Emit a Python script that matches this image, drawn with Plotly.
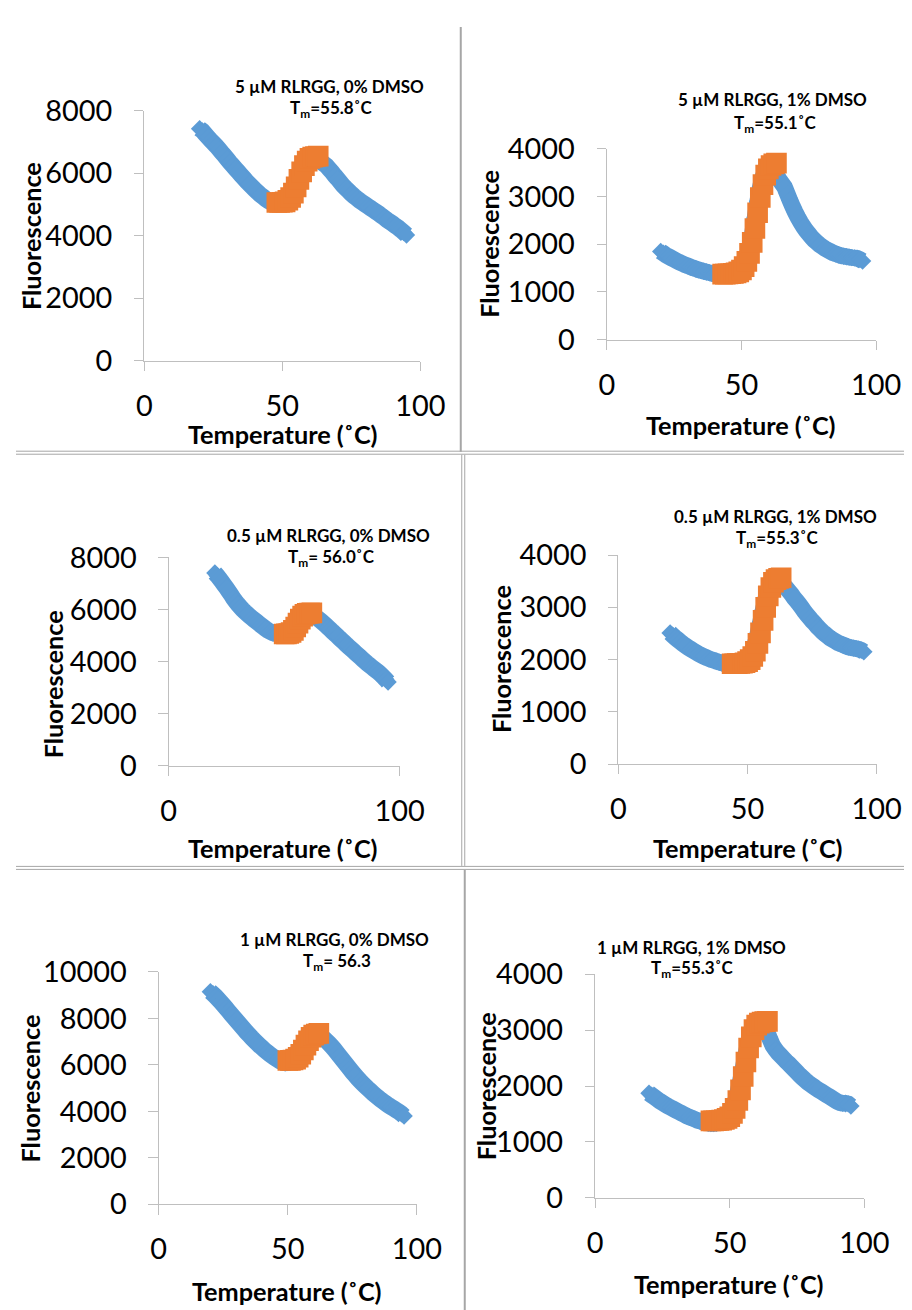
import plotly.graph_objects as go

# ---------------- data ----------------
TEMP = [20, 21, 22, 23, 24, 25, 26, 27, 28, 29,
        30, 31, 32, 33, 34, 35, 36, 37, 38, 39,
        40, 41, 42, 43, 44, 45, 46, 47, 48, 49,
        50, 51, 52, 53, 54, 55, 56, 57, 58, 59,
        60, 61, 62, 63, 64, 65, 66, 67, 68, 69,
        70, 71, 72, 73, 74, 75, 76, 77, 78, 79,
        80, 81, 82, 83, 84, 85, 86, 87, 88, 89,
        90, 91, 92, 93, 94, 95]

# 5 uM RLRGG, 0% DMSO
P1_RAW = [7420, 7350, 7250, 7150, 7050, 6960, 6870, 6770, 6660, 6560,
          6450, 6340, 6240, 6140, 6040, 5940, 5840, 5740, 5650, 5560,
          5470, 5390, 5310, 5240, 5170, 5110, 5060, 5030, 5010, 5020,
          5060, 5130, 5230, 5370, 5530, 5710, 5890, 6060, 6200, 6310,
          6390, 6440, 6450, 6420, 6360, 6300, 6230, 6130, 6030, 5920,
          5820, 5710, 5600, 5510, 5430, 5340, 5260, 5190, 5120, 5060,
          5000, 4940, 4880, 4820, 4760, 4700, 4630, 4570, 4500, 4440,
          4380, 4310, 4250, 4180, 4100, 4020]
P1_FIT_T = [48, 49, 50, 51, 52, 53, 54, 55, 56, 57, 58, 59, 60, 61, 62, 63]
P1_FIT = [5060, 5060, 5065, 5080, 5130, 5220, 5360, 5560, 5800, 6040,
          6240, 6380, 6470, 6510, 6530, 6540]

# 5 uM RLRGG, 1% DMSO
P2_RAW = [1850, 1810, 1770, 1740, 1710, 1680, 1650, 1620, 1595, 1570,
          1550, 1525, 1505, 1485, 1465, 1450, 1435, 1420, 1405, 1390,
          1380, 1370, 1360, 1355, 1350, 1350, 1355, 1365, 1385, 1410,
          1450, 1530, 1680, 1900, 2200, 2550, 2900, 3200, 3420, 3540,
          3580, 3570, 3530, 3450, 3360, 3280, 3200, 3060, 2920, 2790,
          2670, 2560, 2460, 2370, 2290, 2220, 2150, 2090, 2040, 1990,
          1950, 1910, 1880, 1850, 1820, 1800, 1780, 1760, 1750, 1740,
          1730, 1720, 1715, 1705, 1680, 1650]
P2_FIT_T = [43, 44, 45, 46, 47, 48, 49, 50, 51, 52, 53,
            54, 55, 56, 57, 58, 59, 60, 61, 62, 63]
P2_FIT = [1375, 1375, 1378, 1382, 1390, 1400, 1420, 1460, 1530, 1640, 1810,
          2040, 2330, 2660, 2980, 3250, 3450, 3580, 3650, 3685, 3700]

# 0.5 uM RLRGG, 0% DMSO
P3_RAW = [7400, 7300, 7190, 7070, 6950, 6830, 6700, 6570, 6430, 6310,
          6200, 6100, 6000, 5910, 5830, 5750, 5680, 5610, 5540, 5470,
          5400, 5330, 5260, 5200, 5150, 5110, 5080, 5060, 5050, 5050,
          5060, 5080, 5130, 5200, 5290, 5400, 5510, 5620, 5710, 5770,
          5800, 5800, 5780, 5740, 5690, 5630, 5560, 5480, 5400, 5320,
          5240, 5150, 5070, 4990, 4900, 4820, 4740, 4650, 4570, 4490,
          4410, 4330, 4250, 4170, 4090, 4010, 3930, 3860, 3790, 3720,
          3650, 3580, 3500, 3410, 3320, 3220]
P3_FIT_T = [50, 51, 52, 53, 54, 55, 56, 57, 58, 59, 60, 61, 62]
P3_FIT = [5060, 5065, 5080, 5120, 5200, 5330, 5480, 5630, 5750, 5820,
          5855, 5865, 5870]

# 0.5 uM RLRGG, 1% DMSO
P4_RAW = [2510, 2465, 2420, 2380, 2340, 2300, 2265, 2230, 2200, 2170,
          2140, 2110, 2085, 2060, 2040, 2020, 2000, 1985, 1965, 1950,
          1935, 1925, 1915, 1908, 1905, 1905, 1905, 1915, 1935, 1965,
          2010, 2080, 2180, 2320, 2500, 2720, 2950, 3160, 3320, 3430,
          3490, 3510, 3500, 3470, 3420, 3370, 3310, 3250, 3180, 3120,
          3060, 2990, 2920, 2860, 2800, 2740, 2690, 2630, 2580, 2530,
          2490, 2450, 2410, 2380, 2350, 2320, 2300, 2280, 2260, 2240,
          2230, 2220, 2210, 2200, 2180, 2150]
P4_FIT_T = [44, 45, 46, 47, 48, 49, 50, 51, 52, 53,
            54, 55, 56, 57, 58, 59, 60, 61, 62, 63]
P4_FIT = [1920, 1920, 1922, 1925, 1930, 1940, 1960, 2000, 2060, 2160,
          2310, 2510, 2750, 3000, 3220, 3380, 3480, 3530, 3555, 3565]

# 1 uM RLRGG, 0% DMSO
P5_RAW = [9150, 9060, 8950, 8830, 8710, 8580, 8450, 8320, 8190, 8060,
          7930, 7800, 7670, 7540, 7410, 7290, 7170, 7060, 6950, 6840,
          6740, 6640, 6550, 6460, 6380, 6300, 6230, 6160, 6110, 6090,
          6100, 6140, 6210, 6320, 6470, 6650, 6830, 7000, 7140, 7240,
          7290, 7300, 7280, 7220, 7130, 7030, 6920, 6800, 6670, 6530,
          6390, 6250, 6110, 5970, 5830, 5690, 5560, 5430, 5310, 5200,
          5090, 4980, 4880, 4780, 4680, 4590, 4500, 4420, 4340, 4260,
          4190, 4120, 4050, 3980, 3900, 3800]
P5_FIT_T = [50, 51, 52, 53, 54, 55, 56, 57, 58, 59, 60, 61, 62]
P5_FIT = [6190, 6195, 6210, 6250, 6330, 6460, 6640, 6850, 7040, 7190,
          7280, 7330, 7360]

# 1 uM RLRGG, 1% DMSO
P6_RAW = [1870, 1835, 1800, 1765, 1730, 1700, 1670, 1640, 1615, 1590,
          1565, 1540, 1515, 1490, 1465, 1445, 1425, 1405, 1385, 1370,
          1355, 1345, 1335, 1330, 1330, 1335, 1345, 1365, 1395, 1440,
          1500, 1590, 1720, 1890, 2100, 2340, 2580, 2790, 2960, 3080,
          3150, 3170, 3150, 3060, 2950, 2830, 2720, 2650, 2590, 2540,
          2490, 2440, 2395, 2345, 2295, 2245, 2195, 2150, 2105, 2065,
          2030, 1995, 1960, 1930, 1900, 1870, 1840, 1810, 1780, 1750,
          1720, 1700, 1690, 1690, 1680, 1640]
P6_FIT_T = [43, 44, 45, 46, 47, 48, 49, 50, 51, 52, 53,
            54, 55, 56, 57, 58, 59, 60, 61, 62, 63, 64]
P6_FIT = [1375, 1375, 1378, 1382, 1390, 1400, 1420, 1450, 1510, 1600, 1740,
          1930, 2170, 2430, 2680, 2880, 3010, 3090, 3125, 3145, 3152, 3156]

TITLES = ["5 µM RLRGG, 0% DMSO", "5 µM RLRGG, 1% DMSO",
          "0.5 µM RLRGG, 0% DMSO", "0.5 µM RLRGG, 1% DMSO",
          "1 µM RLRGG, 0% DMSO", "1 µM RLRGG, 1% DMSO"]
TM_LABELS = ["T<sub>m</sub>=55.8˚C", "T<sub>m</sub>=55.1˚C",
             "T<sub>m</sub>= 56.0˚C", "T<sub>m</sub>=55.3˚C",
             "T<sub>m</sub>= 56.3", "T<sub>m</sub>=55.3˚C"]
Y_MAX = [8000, 4000, 8000, 4000, 10000, 4000]
Y_STEP = [2000, 1000, 2000, 1000, 2000, 1000]
X_TICKS = [[0, 50, 100], [0, 50, 100], [0, 100], [0, 50, 100], [0, 50, 100], [0, 50, 100]]
X_TITLE = "Temperature (˚C)"
Y_TITLE = "Fluorescence"

RAW = [P1_RAW, P2_RAW, P3_RAW, P4_RAW, P5_RAW, P6_RAW]
FIT_T = [P1_FIT_T, P2_FIT_T, P3_FIT_T, P4_FIT_T, P5_FIT_T, P6_FIT_T]
FIT = [P1_FIT, P2_FIT, P3_FIT, P4_FIT, P5_FIT, P6_FIT]

# ---------------- geometry ----------------
# Target positions are given in final-picture pixels; the viewer maps figure
# pixels to picture pixels as  X = 15.5 + 0.965 x,  Y = 26.5 + 0.973 y.
SX, SY = 0.965, 0.973
OX, OY = 15.5, 26.5
FW, FH = 929, 1319
K = (SX + SY) / 2  # size compensation

AREA = [
    (144.0, 420.0, 360.0, 110.0),
    (606.7, 876.0, 339.0, 148.3),
    (168.3, 399.3, 765.0, 556.7),
    (618.3, 876.7, 763.3, 554.3),
    (158.3, 416.7, 1203.3, 971.0),
    (595.0, 864.3, 1196.7, 973.3),
]
TITLE_POS = [
    (329, 86, 331, 108),
    (772, 99, 775, 123),
    (328, 535, 331, 557),
    (775, 516, 777, 538),
    (334, 939, 337, 961),
    (691, 947, 692, 968),
]
AXT_POS = [
    (30, 235, 283, 433),
    (488, 243, 741, 424),
    (52, 683, 283, 847),
    (501, 658, 748, 847),
    (30, 1087, 287, 1290),
    (486, 1085, 729, 1283),
]

BLUE = "#5B9BD5"
ORANGE = "#ED7D31"
AXIS_GREY = "#bfbfbf"
BORDER_GREY = "#a6a6a6"
FONT = "Lato"


def px(X):
    return ((X - OX) / SX) / FW


def py(Y):
    return 1 - ((Y - OY) / SY) / FH


def sz(v):
    return v / K


fig = go.Figure()
layout = dict(
    width=FW, height=FH, margin=dict(l=0, r=0, t=0, b=0),
    paper_bgcolor="white", plot_bgcolor="white", showlegend=False,
    font=dict(family=FONT, color="black"),
)
annotations = []

for i in range(6):
    n = i + 1
    xs = "" if n == 1 else str(n)
    x0, x1, y0, y1 = AREA[i]
    fig.add_trace(go.Scatter(
        x=TEMP, y=RAW[i], mode="lines+markers", xaxis="x" + xs, yaxis="y" + xs,
        line=dict(color=BLUE, width=sz(16), simplify=False),
        marker=dict(symbol="diamond", size=sz(13), color=BLUE, line=dict(width=0)),
        hoverinfo="skip"))
    fig.add_trace(go.Scatter(
        x=FIT_T[i], y=FIT[i], mode="markers", xaxis="x" + xs, yaxis="y" + xs,
        marker=dict(symbol="square", size=sz(20), color=ORANGE, line=dict(width=0)),
        hoverinfo="skip"))
    layout["xaxis" + xs] = dict(
        domain=[px(x0), px(x1)], anchor="y" + xs, range=[0, 100],
        tickvals=X_TICKS[i], showline=True, linecolor=AXIS_GREY, linewidth=1,
        ticks="outside", ticklen=sz(9), tickcolor=AXIS_GREY, tickwidth=1,
        showgrid=False, zeroline=False, ticklabelstandoff=10,
        tickfont=dict(family=FONT, size=sz(28), color="black"))
    layout["yaxis" + xs] = dict(
        domain=[py(y0), py(y1)], anchor="x" + xs, range=[0, Y_MAX[i]],
        dtick=Y_STEP[i], tick0=0, tickformat="d",
        showline=True, linecolor=AXIS_GREY, linewidth=1,
        ticks="outside", ticklen=sz(9), tickcolor=AXIS_GREY, tickwidth=1,
        showgrid=False, zeroline=False, ticklabelstandoff=16,
        tickfont=dict(family=FONT, size=sz(28), color="black"))
    tx1, ty1, tx2, ty2 = TITLE_POS[i]
    annotations.append(dict(
        text="<b>" + TITLES[i] + "</b>", x=px(tx1), y=py(ty1), xref="paper", yref="paper",
        xanchor="center", yanchor="middle", showarrow=False,
        font=dict(family=FONT, size=sz(16.5), color="black")))
    annotations.append(dict(
        text="<b>" + TM_LABELS[i] + "</b>", x=px(tx2), y=py(ty2), xref="paper", yref="paper",
        xanchor="center", yanchor="middle", showarrow=False,
        font=dict(family=FONT, size=sz(16.5), color="black")))
    ax, ay, bx, by = AXT_POS[i]
    annotations.append(dict(
        text="<b>" + Y_TITLE + "</b>", x=px(ax), y=py(ay), xref="paper", yref="paper",
        xanchor="center", yanchor="middle", showarrow=False, textangle=-90,
        font=dict(family=FONT, size=sz(24.5), color="black")))
    annotations.append(dict(
        text="<b>" + X_TITLE + "</b>", x=px(bx), y=py(by), xref="paper", yref="paper",
        xanchor="center", yanchor="middle", showarrow=False,
        font=dict(family=FONT, size=sz(24.5), color="black")))

shapes = []


def hline(Y, xa, xb, w=1):
    shapes.append(dict(type="line", xref="paper", yref="paper",
                       x0=max(px(xa), 0), x1=min(px(xb), 1), y0=py(Y), y1=py(Y),
                       line=dict(color=BORDER_GREY, width=w)))


def vline(X, ya, yb, w=1):
    shapes.append(dict(type="line", xref="paper", yref="paper",
                       x0=px(X), x1=px(X), y0=min(py(ya), 1), y1=max(py(yb), 0),
                       line=dict(color=BORDER_GREY, width=w)))


vline(460.5, 11, 451, 2)
hline(450.5, 8, 912)
hline(453.5, 8, 912)
vline(461.5, 454, 865)
vline(464.5, 454, 865)
hline(865.5, 8, 912)
hline(868.5, 8, 912)
vline(464.5, 869, 1310, 2)

layout["annotations"] = annotations
layout["shapes"] = shapes
fig.update_layout(**layout)

fig.write_html("out.html", config={"displayModeBar": False})
